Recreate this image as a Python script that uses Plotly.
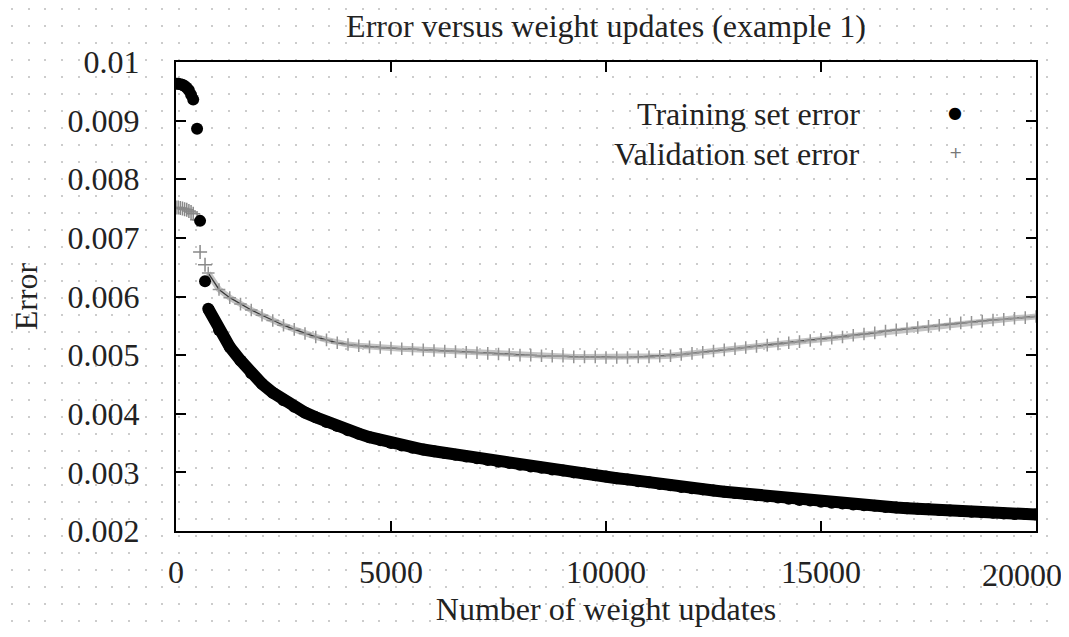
import plotly.graph_objects as go

# Training set error: sparse early samples, then the dense band
TRAIN_EARLY_X = [0, 50, 100, 150, 200, 250, 300, 350, 400, 490, 560, 675]
TRAIN_EARLY_ERR = [0.00963, 0.00963, 0.00962, 0.00961, 0.00959, 0.00956, 0.00952,
                   0.00944, 0.00936, 0.00886, 0.00729, 0.00626]

# Validation set error: sparse early samples
VAL_EARLY_X = [0, 50, 100, 150, 200, 250, 300, 350, 400, 490, 560, 675]
VAL_EARLY_ERR = [0.00752, 0.00752, 0.00751, 0.00750, 0.00749, 0.00748, 0.00746,
                 0.00744, 0.00741, 0.00731, 0.00676, 0.00654]

# Band samples, every 250 updates from 750 to 20000
BAND_X = list(range(750, 20001, 250))

TRAIN_ERR = [
    0.00579, 0.00543, 0.00514, 0.00491, 0.00469, 0.00451, 0.00436, 0.00423,
    0.00412, 0.00402, 0.00394, 0.00386, 0.00379, 0.00372, 0.00366, 0.00360,
    0.00355, 0.00350, 0.00346, 0.00342, 0.00339, 0.00336, 0.00333, 0.00330,
    0.00327, 0.00324, 0.00321, 0.00318, 0.00316, 0.00313, 0.00310, 0.00308,
    0.00305, 0.00303, 0.00300, 0.00298, 0.00295, 0.00293, 0.00290, 0.00288,
    0.00285, 0.00283, 0.00280, 0.00278, 0.00275, 0.00273, 0.00271, 0.00269,
    0.00267, 0.00265, 0.00263, 0.00261, 0.00259, 0.00257, 0.00255, 0.00253,
    0.00252, 0.00250, 0.00248, 0.00247, 0.00245, 0.00244, 0.00243, 0.00241,
    0.00240, 0.00239, 0.00238, 0.00237, 0.00236, 0.00235, 0.00234, 0.00233,
    0.00232, 0.00231, 0.00230, 0.00229, 0.00229, 0.00228,
]

VAL_ERR = [
    0.00640, 0.00612, 0.00598, 0.00587, 0.00577, 0.00568, 0.00559, 0.00551,
    0.00544, 0.00537, 0.00531, 0.00526, 0.00521, 0.00518, 0.00516, 0.00514,
    0.00513, 0.00512, 0.00511, 0.00510, 0.00509, 0.00508, 0.00507, 0.00506,
    0.00505, 0.00504, 0.00503, 0.00502, 0.00501, 0.00500, 0.00500, 0.00499,
    0.00498, 0.00498, 0.00497, 0.00497, 0.00497, 0.00496, 0.00496, 0.00496,
    0.00497, 0.00497, 0.00498, 0.00499, 0.00501, 0.00503, 0.00505, 0.00507,
    0.00509, 0.00511, 0.00513, 0.00515, 0.00517, 0.00519, 0.00521, 0.00523,
    0.00525, 0.00527, 0.00529, 0.00531, 0.00534, 0.00536, 0.00538, 0.00541,
    0.00543, 0.00545, 0.00547, 0.00549, 0.00551, 0.00553, 0.00555, 0.00556,
    0.00558, 0.00560, 0.00561, 0.00563, 0.00564, 0.00566,
]

X_TICKS = [0, 5000, 10000, 15000, 20000]
X_TICK_TEXT = ["0", "5000", "10000", "15000", "20000"]
Y_TICKS = [0.002, 0.003, 0.004, 0.005, 0.006, 0.007, 0.008, 0.009, 0.01]
Y_TICK_TEXT = ["0.002", "0.003", "0.004", "0.005", "0.006", "0.007", "0.008", "0.009", "0.01"]

# the page body adds an 8px margin, so the figure is shrunk and shifted by that
OFF = 8
W, H = 1069 - OFF, 637 - OFF
FONT = "Liberation Serif"
FS = 32
INK = "#222222"


def px(x):
    return (x - OFF) / W


def py(y):
    return 1 - (y - OFF) / H


fig = go.Figure()

# empty traces so the full-page dot subplot and the overlay x axis get drawn
fig.add_trace(go.Scatter(x=[], y=[], xaxis="x", yaxis="y", showlegend=False))
fig.add_trace(go.Scatter(x=[], y=[], xaxis="x3", yaxis="y2", showlegend=False))

# Plot traces go on x2/y2
fig.add_trace(go.Scatter(
    x=BAND_X, y=VAL_ERR, xaxis="x2", yaxis="y2", mode="lines",
    line=dict(color="#c4c4c4", width=6),
    showlegend=False, hoverinfo="skip",
))
fig.add_trace(go.Scatter(
    x=BAND_X, y=VAL_ERR, xaxis="x2", yaxis="y2", mode="lines+markers",
    line=dict(color="#3a3a3a", width=1.3),
    marker=dict(symbol="cross-thin", size=9, line=dict(width=1.5, color="#959595")),
    showlegend=False, hoverinfo="skip",
))
fig.add_trace(go.Scatter(
    x=VAL_EARLY_X, y=VAL_EARLY_ERR, xaxis="x2", yaxis="y2", mode="markers",
    marker=dict(symbol="cross-thin", size=10, line=dict(width=1.5, color="#888888")),
    showlegend=False, hoverinfo="skip",
))
fig.add_trace(go.Scatter(
    x=BAND_X, y=TRAIN_ERR, xaxis="x2", yaxis="y2", mode="lines+markers",
    line=dict(color="black", width=12),
    marker=dict(symbol="circle", size=12, color="black"),
    showlegend=False, hoverinfo="skip",
))
fig.add_trace(go.Scatter(
    x=TRAIN_EARLY_X, y=TRAIN_EARLY_ERR, xaxis="x2", yaxis="y2", mode="markers",
    marker=dict(symbol="circle", size=12, color="black"),
    showlegend=False, hoverinfo="skip",
))

# plot frame in window pixels
L, R, T, B = 176, 1036, 62, 531

tick_font = dict(family=FONT, size=FS, color=INK)

fig.update_layout(
    width=W, height=H,
    margin=dict(l=0, r=0, t=0, b=0),
    paper_bgcolor="white",
    plot_bgcolor="rgba(0,0,0,0)",
    font=dict(family=FONT, size=FS, color=INK),
    showlegend=False,
    title=dict(
        text="Error versus weight updates (example 1)",
        x=px(606), xanchor="center", y=py(26), yanchor="middle",
        font=dict(family=FONT, size=FS, color=INK),
    ),
    # background dot pattern
    xaxis=dict(
        domain=[0, 1], range=[0, W], showgrid=True, gridcolor="#cccccc",
        gridwidth=2, griddash="2px,15px", tick0=4, dtick=16.7,
        showticklabels=False, zeroline=False, showline=False, fixedrange=True,
    ),
    yaxis=dict(
        domain=[0, 1], range=[0, H], showgrid=False, showticklabels=False,
        zeroline=False, showline=False, fixedrange=True,
    ),
    xaxis2=dict(
        domain=[px(L), px(R)], anchor="y2", range=[0, 20000],
        tickvals=X_TICKS, ticktext=X_TICK_TEXT[:-1] + [""], ticks="inside",
        ticklen=10, tickwidth=1.5, tickcolor="black", showline=True,
        linecolor="black", linewidth=2, mirror="ticks", showgrid=False,
        zeroline=False, automargin=False, ticklabelstandoff=12,
        tickfont=tick_font,
        title=dict(text="Number of weight updates", standoff=8,
                   font=dict(family=FONT, size=FS, color=INK)),
    ),
    # last x label sits a little left of its tick so it stays on the page
    xaxis3=dict(
        overlaying="x2", anchor="y2", side="bottom", range=[0, 20000],
        tickvals=X_TICKS[-1:], ticktext=X_TICK_TEXT[-1:], ticks="",
        showline=False, showgrid=False, zeroline=False, automargin=False,
        ticklabelstandoff=22, ticklabelshift=-14, ticklabeloverflow="allow",
        tickfont=tick_font,
    ),
    yaxis2=dict(
        domain=[py(B), py(T)], anchor="x2", range=[0.002, 0.01],
        tickvals=Y_TICKS, ticktext=Y_TICK_TEXT, ticks="inside", ticklen=10,
        tickwidth=1.5, tickcolor="black", showline=True, linecolor="black",
        linewidth=2, mirror="ticks", showgrid=False, zeroline=False,
        automargin=False, ticklabelstandoff=28, tickfont=tick_font,
        title=dict(text="Error", standoff=20,
                   font=dict(family=FONT, size=FS, color=INK)),
    ),
)

# gnuplot-style key: text right-aligned, sample symbol to the right
fig.add_annotation(text="Training set error", xref="paper", yref="paper",
                   x=px(862), y=py(114), xanchor="right", yanchor="middle",
                   showarrow=False, font=dict(family=FONT, size=FS, color=INK))
fig.add_annotation(text="Validation set error", xref="paper", yref="paper",
                   x=px(862), y=py(154), xanchor="right", yanchor="middle",
                   showarrow=False, font=dict(family=FONT, size=FS, color=INK))
fig.add_annotation(text="●", xref="paper", yref="paper",
                   x=px(955), y=py(112), xanchor="center", yanchor="middle",
                   showarrow=False, font=dict(family="DejaVu Sans", size=16, color="black"))
fig.add_annotation(text="+", xref="paper", yref="paper",
                   x=px(955), y=py(153), xanchor="center", yanchor="middle",
                   showarrow=False, font=dict(family="DejaVu Sans", size=16, color="#777777"))

fig.write_html("out.html")
